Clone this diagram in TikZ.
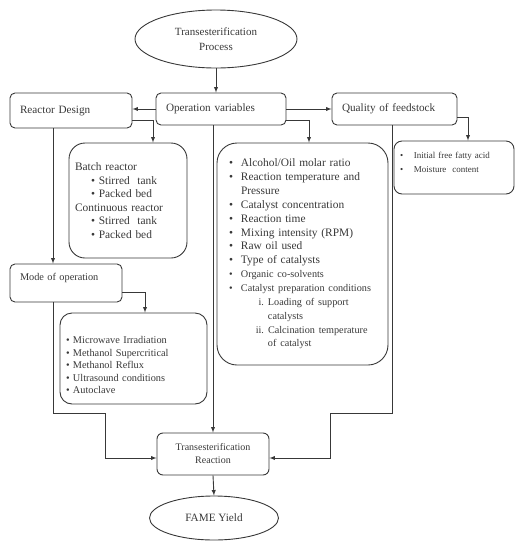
\documentclass[tikz,border=0pt]{standalone}
\usepackage{fontspec}
\setmainfont{Liberation Serif}
\usetikzlibrary{shapes.geometric}
\definecolor{ink}{HTML}{383838}
\newcommand{\fsz}[2]{\fontsize{#1}{#2}\selectfont}
\newcommand{\bul}[1]{\makebox[#1][l]{\textbullet}}
\newcommand{\rom}[1]{\makebox[35pt][r]{#1}\hspace{4pt}}

\begin{document}
\begin{tikzpicture}[x=1pt,y=-1pt,line width=0.9pt,
        every node/.style={text=ink},
        ell/.style={ellipse,draw=ink,inner sep=0pt,align=center},
        box/.style={draw=ink,rounded corners=#1,inner sep=0pt,align=left},
        arr/.style={draw=ink,-latex}]
    \useasboundingbox (0,0) rectangle (522,550);

    % top and bottom
    \node[ell,minimum width=162pt,minimum height=58pt,font=\fsz{11}{15}] (top) at (216,39) {Transesterification\\Process};
    \node[ell,minimum width=129pt,minimum height=44pt,font=\fsz{11.2}{13}] (fame) at (214,518) {FAME Yield};
    \node[box=6pt,align=center,minimum width=112pt,minimum height=42pt,font=\fsz{10}{13}] (react) at (213,454) {Transesterification\\Reaction};

    % first row
    \node[box=5pt,minimum width=122pt,minimum height=35pt,text width=102pt,font=\fsz{11.2}{13}] (rd) at (71,110.5) {Reactor Design};
    \node[box=5pt,minimum width=130pt,minimum height=32pt,text width=110pt,font=\fsz{11.2}{13}] (opv) at (221,109) {Operation variables};
    \node[box=5pt,minimum width=125pt,minimum height=32pt,text width=105pt,font=\fsz{11.2}{13}] (qf) at (394.5,109) {Quality of feedstock};

    % lists
    \node[box=16pt,minimum width=118pt,minimum height=115pt,text width=106pt,font=\fsz{11.4}{13.6}] (batch) at (128,200.5) {Batch reactor\\
        \hspace*{16pt}\textbullet\ Stirred\ \ tank\\
        \hspace*{16pt}\textbullet\ Packed bed\\
        Continuous reactor\\
        \hspace*{16pt}\textbullet\ Stirred\ \ tank\\
        \hspace*{16pt}\textbullet\ Packed bed};
    \node[box=20pt,minimum width=171pt,minimum height=222pt,text width=147pt,font=\fsz{11.4}{13.85}] (big) at (302.5,254) {\bul{12pt}Alcohol/Oil molar ratio\\
        \bul{12pt}Reaction temperature and\\
        \hspace*{12pt}Pressure\\
        \bul{12pt}Catalyst concentration\\
        \bul{12pt}Reaction time\\
        \bul{12pt}Mixing intensity (RPM)\\
        \bul{12pt}Raw oil used\\
        \bul{12pt}Type of catalysts\\
        {\fsz{10.2}{13.85}\bul{12pt}Organic co-solvents}\\
        {\fsz{10.2}{13.85}\bul{12pt}Catalyst preparation conditions}\\
        {\fsz{10.2}{13.85}\rom{i.}Loading of support}\\
        {\fsz{10.2}{13.85}\hspace*{39pt}catalysts}\\
        {\fsz{10.2}{13.85}\rom{ii.}Calcination temperature}\\
        {\fsz{10.2}{13.85}\hspace*{39pt}of catalyst}};
    \node[box=8pt,minimum width=120pt,minimum height=53pt,text width=108pt,text height=0pt,text depth=19pt,font=\fsz{9}{14}] (feed) at (454,167.5) {\bul{14pt}Initial free fatty acid\\
        \bul{14pt}Moisture\ \ content};
    \node[box=5pt,minimum width=112pt,minimum height=38pt,text width=92pt,text height=0pt,text depth=5pt,font=\fsz{10.3}{12}] (mode) at (66,283) {Mode of operation};
    \node[box=12pt,minimum width=147pt,minimum height=91pt,text width=135pt,text height=0pt,text depth=30pt,font=\fsz{10.3}{12.5}] (micro) at (133.5,358.5) {\bul{7pt}Microwave Irradiation\\
        \bul{7pt}Methanol Supercritical\\
        \bul{7pt}Methanol Reflux\\
        \bul{7pt}Ultrasound conditions\\
        \bul{7pt}Autoclave};

    \coordinate (lj) at (105,413);
    \coordinate (rj) at (330,413);

    \draw[arr] (top.south) -- (top.south |- opv.north);
    \draw[arr] (opv.west) -- (opv.west -| rd.east);
    \draw[arr] (opv.east) -- (opv.east -| qf.west);
    \draw[arr] ([yshift=-10pt]rd.east) -| ([xshift=25pt]batch.north);
    \draw[arr] ([yshift=-11pt]opv.east) -| ([xshift=6.5pt]big.north);
    \draw[arr] ([yshift=-8pt]qf.east) -| ([xshift=14pt]feed.north);
    \draw[arr] ([xshift=-18pt]rd.south) -- ([xshift=-13pt]mode.north);
    \draw[arr] ([yshift=-9pt]mode.east) -| ([xshift=11.5pt]micro.north);
    \draw[arr] ([xshift=-13pt]mode.south) |- (lj) |- ([yshift=-4pt]react.west);
    \draw[arr] (opv.south -| react.north) -- (react.north);
    \draw[arr] ([xshift=-2.5pt]qf.south) |- (rj) |- ([yshift=-4pt]react.east);
    \draw[arr] (react.south) -- (fame.north);
\end{tikzpicture}
\end{document}
